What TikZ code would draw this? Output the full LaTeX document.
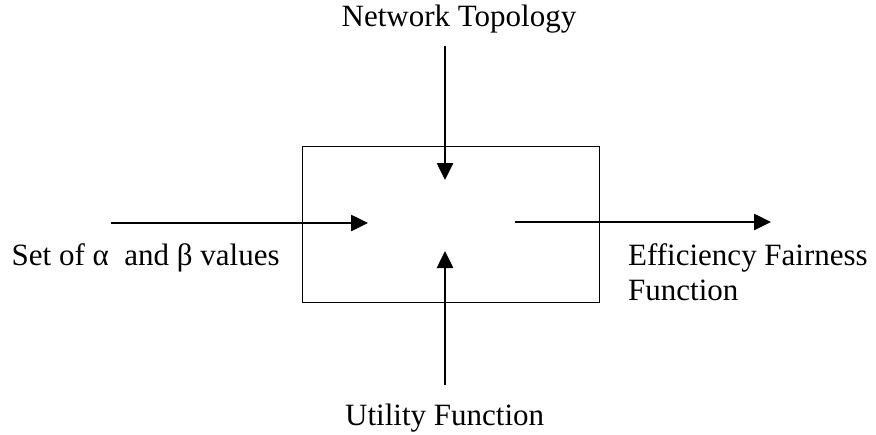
\documentclass[tikz,border=0pt]{standalone}
\usepackage{fontspec}
\setmainfont{Liberation Serif}
\usetikzlibrary{arrows.meta}
\begin{document}
\begin{tikzpicture}[x=1pt,y=-1pt,
  label text/.style={inner sep=0pt,anchor=base west,font=\fontsize{31}{35}\selectfont},
  flow/.style={line width=2.6pt,-{Triangle[length=17pt,width=16pt]}},
  block/.style={draw=black,line width=1pt,rectangle,inner sep=0pt,minimum width=297pt,minimum height=156pt}]
  \useasboundingbox (0,0) rectangle (876,434);
  % central block
  \node[block] (box) at (450.5,224) {};
  % labels
  \node[label text] (topo) at (341.5,26) {Network Topology};
  \node[label text] (set) at (11.5,265.5) {Set of α\ \ and β values};
  \node[label text] (eff) at (628,265.5) {Efficiency Fairness};
  \node[label text] (func) at (628,300) {Function};
  \node[label text] (util) at (345,425) {Utility Function};
  % arrow end points
  \coordinate (tS) at (445,46);
  \coordinate (tE) at (445,180);
  \coordinate (bS) at (445,385);
  \coordinate (bE) at (445,251);
  \coordinate (lS) at (111,223);
  \coordinate (lE) at (368,223);
  \coordinate (rS) at (515,222);
  \coordinate (rE) at (771,222);
  \draw[flow] (tS) -- (tE);
  \draw[flow] (bS) -- (bE);
  \draw[flow] (lS) -- (lE);
  \draw[flow] (rS) -- (rE);
\end{tikzpicture}
\end{document}
